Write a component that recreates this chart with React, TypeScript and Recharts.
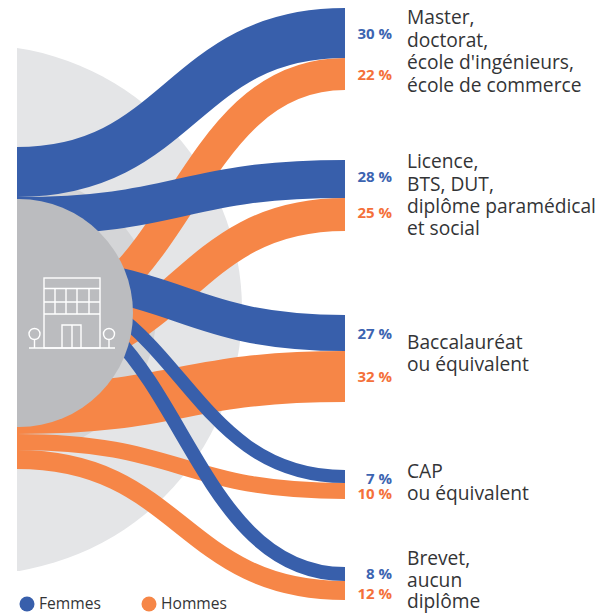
import React from "react";
import { Sankey } from "recharts";

const categories = ["master", "licence", "bac", "cap", "brevet"];
const categoryLines = [
  ["Master,", "doctorat,", "école d'ingénieurs,", "école de commerce"],
  ["Licence,", "BTS, DUT,", "diplôme paramédical", "et social"],
  ["Baccalauréat", "ou équivalent"],
  ["CAP", "ou équivalent"],
  ["Brevet,", "aucun", "diplôme"],
];
const categoryBaselines = [
  [24, 47, 69, 92],
  [168, 191, 213, 235],
  [349, 371],
  [478, 500],
  [565, 587, 608],
];

// printed percentages
const femmesPct = [30, 28, 27, 7, 8];
const hommesPct = [22, 25, 32, 10, 12];
// ribbon thickness as drawn in the picture (not strictly the printed values)
const femmesFlow = [50, 38, 36, 13, 14];
const hommesFlow = [32, 33, 51, 16, 19];

// hidden spacer flows that set the gaps between the ribbons in each column
const gapLinks: [string, string, number][] = [
  ["L0", "R0", 8],
  ["L0", "R1", 70],
  ["L0", "R2", 69],
  ["L1", "R2", 11],
  ["L2", "R2", 1],
  ["L4", "R2", 3],
  ["L4", "R3", 5],
  ["L3", "R3", 63],
  ["L3", "R4", 68],
  ["L3", "R5", 14],
];

const BLUE = "#385fab";
const ORANGE = "#f68647";
const BLUE_TEXT = "#3c64b1";
const ORANGE_TEXT = "#f4703a";
const TEXT = "#333436";
const FONT = "'Open Sans', 'Noto Sans', sans-serif";

const pctShift = { f: [0, -3, 0, 2, -1], h: [0, -2, 0, 2, 3] };
// the blue ribbons overlap a little behind the round badge
const femmesStartNudge = [0, 0, 12, -6, -10];

// left column, top to bottom
const leftOrder = [
  "L0", "fs-master", "fs-licence", "L1", "fs-bac", "fs-cap", "fs-brevet",
  "L2", "hs-master", "hs-licence", "L4", "hs-bac", "hs-cap", "hs-brevet", "L3",
];
// right column, top to bottom
const rightOrder = [
  "R0", "f-master", "h-master", "R1", "f-licence", "h-licence", "R2",
  "f-bac", "h-bac", "R3", "f-cap", "h-cap", "R4", "f-brevet", "h-brevet", "R5",
];
const nodeNames = [...leftOrder, ...rightOrder];
const idx = (name: string) => nodeNames.indexOf(name);

const sankeyData = {
  nodes: nodeNames.map((name) => ({ name })),
  links: [
    ...categories.map((c, i) => ({ source: idx("hs-" + c), target: idx("h-" + c), value: hommesFlow[i], color: ORANGE, nudge: 0 })),
    ...categories.map((c, i) => ({ source: idx("fs-" + c), target: idx("f-" + c), value: femmesFlow[i], color: BLUE, nudge: femmesStartNudge[i] })),
    ...gapLinks.map(([a, b, v]) => ({ source: idx(a), target: idx(b), value: v, color: "none", nudge: 0 })),
  ],
};

const RibbonLink = (props: any) => {
  const { sourceX, sourceY, targetX, targetY, sourceControlX, targetControlX, linkWidth, payload } = props;
  if (payload.color === "none") return <g />;
  const startY = sourceY + payload.nudge;
  return (
    <path
      d={`M${sourceX},${startY} C${sourceControlX},${startY} ${targetControlX},${targetY} ${targetX},${targetY}`}
      fill="none"
      stroke={payload.color}
      strokeWidth={linkWidth}
    />
  );
};

const PctNode = (props: any) => {
  const { x, y, height, payload } = props;
  const [side, cat] = String(payload.name).split("-");
  const i = categories.indexOf(cat);
  if ((side !== "f" && side !== "h") || i < 0) return <g />;
  const isF = side === "f";
  return (
    <text
      x={x + 47}
      y={y + height / 2 + pctShift[side][i] + 5.5}
      textAnchor="end"
      fontFamily={FONT}
      fontSize={15}
      fontWeight={700}
      fill={isF ? BLUE_TEXT : ORANGE_TEXT}
    >
      {(isF ? femmesPct : hommesPct)[i]} %
    </text>
  );
};

const layer: React.CSSProperties = { position: "absolute", left: 0, top: 0 };

const BuildingIcon = () => (
  <g fill="none" stroke="#fff" strokeWidth={1.4}>
    <rect x={44} y={278} width={56} height={70} />
    <path d="M44 288.5H100M44 302H100M44 314H100M55 288.5V314M66 288.5V314M77 288.5V314M89 288.5V314" />
    <path d="M62 348V325H81V348M72 325V348" />
    <path d="M29 348H115M34.5 340V348M109 340V348" />
    <circle cx={34.5} cy={334} r={5.5} />
    <circle cx={109} cy={334} r={5.5} />
  </g>
);

export default function App() {
  return (
    <div style={{ ...layer, width: 610, height: 614, background: "#fff", overflow: "hidden" }}>
      <svg width={610} height={614} style={layer}>
        <defs>
          <clipPath id="leftCut">
            <rect x={17} y={0} width={300} height={614} />
          </clipPath>
        </defs>
        <g clipPath="url(#leftCut)">
          <circle cx={-22.5} cy={309.5} r={264.5} fill="#e4e5e7" />
          <circle cx={17} cy={315} r={139} fill="#d4d5d7" />
        </g>
      </svg>
      <div style={layer}>
        <Sankey
          width={610}
          height={614}
          data={sankeyData}
          margin={{ top: 0, right: 265, bottom: 0, left: 17 }}
          nodeWidth={0}
          nodePadding={0}
          iterations={0}
          sort={false}
          link={RibbonLink}
          node={PctNode}
        />
      </div>
      <svg width={610} height={614} style={layer}>
        <g clipPath="url(#leftCut)">
          <circle cx={19} cy={313} r={114} fill="#bbbcbf" />
        </g>
        <BuildingIcon />
        {categoryLines.map((lines, i) =>
          lines.map((line, j) => (
            <text key={line + i} x={407} y={categoryBaselines[i][j]} fontFamily={FONT} fontSize={19.2} fill={TEXT}>
              {line}
            </text>
          ))
        )}
        <circle cx={27} cy={604} r={7.5} fill={BLUE} />
        <text x={39} y={609} fontFamily={FONT} fontSize={15.6} fill={TEXT}>Femmes</text>
        <circle cx={149} cy={604} r={7.5} fill={ORANGE} />
        <text x={161} y={609} fontFamily={FONT} fontSize={15.6} fill={TEXT}>Hommes</text>
      </svg>
    </div>
  );
}
